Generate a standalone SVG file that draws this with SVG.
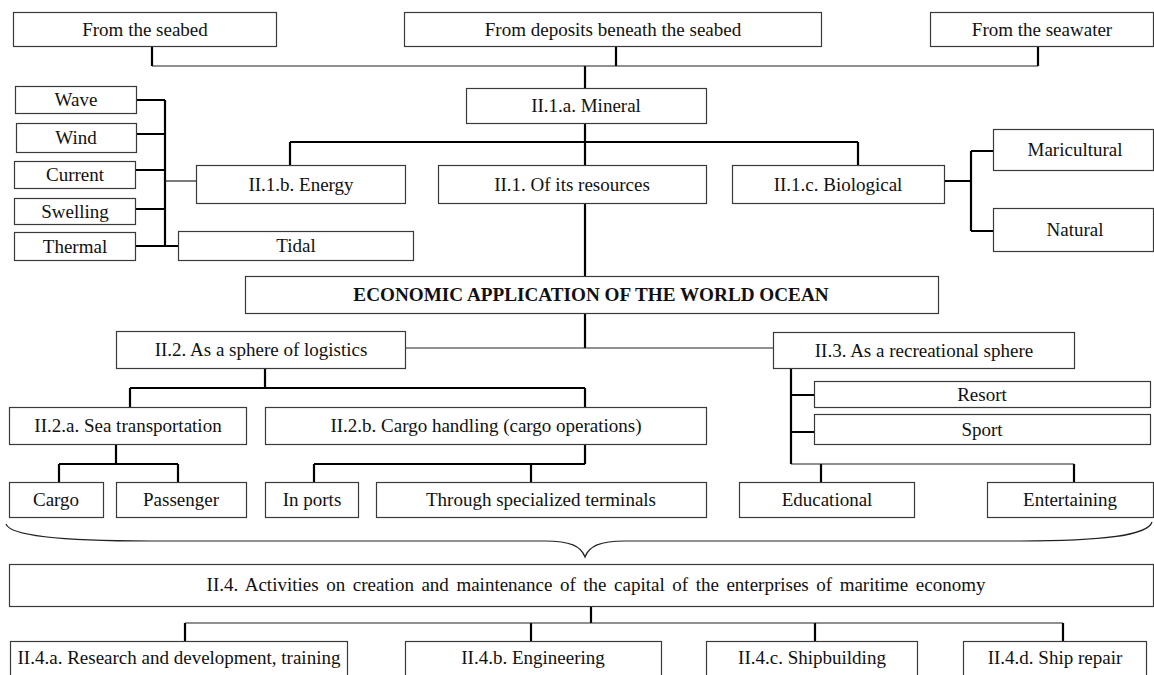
<svg xmlns="http://www.w3.org/2000/svg" width="1154" height="675" viewBox="0 0 1154 675">
<style>
rect{fill:#fff;stroke:#3a3a3a;stroke-width:1.2}
text{font-family:"Liberation Serif","Times New Roman",serif;font-size:19px;fill:#111;text-anchor:middle}
.b{font-weight:bold;font-size:19.2px}
.c path{fill:none;stroke:#000;stroke-width:2.2}
.c path.t{stroke-width:1.2;stroke:#222}
</style>
<rect x="0" y="0" width="1154" height="675" style="stroke:none"/>
<g class="c" id="connectors">
<path d="M152,46V66M616,46V66M1038,46V66M585,66V88"/>
<path class="t" d="M152,66H1038"/>
<path d="M585,123V142M290,142H858M290,142V165M585,142V165M858,142V165"/>
<path d="M165,100V246M136,100H165M137,134H165M135,170H165M135,209H165M135,246H178"/>
<path class="t" d="M165,181H196"/>
<path d="M944,181H971M971,151V231M971,151H993M971,231H993"/>
<path d="M585,203V276M585,313V348"/>
<path class="t" d="M405,348H773"/>
<path d="M265,368V388M130,388H585M130,388V407M585,388V407"/>
<path d="M116,444V464M59,464H178M59,464V482M178,464V482"/>
<path d="M585,444V464M314,464H585M314,464V482M531,464V482"/>
<path d="M791,368V464M791,395H814M791,432H814M821,464V482M1074,464V482"/>
<path class="t" d="M791,464H1074"/>
<path d="M591,606V623M185,623V641M531,623V641M815,623V641M1063,623V641"/>
<path class="t" d="M185,623H1063"/>
<path class="t" d="M6,524C10,536 60,541 150,541L545,541C570,541 581,546 585,557C589,546 600,541 625,541L1020,541C1100,541 1148,536 1152,522"/>
</g>
<g id="n-seabed"><rect x="13.5" y="12.5" width="263" height="34"/><text x="145" y="36">From the seabed</text></g>
<g id="n-deposits"><rect x="404.5" y="12.5" width="417" height="34"/><text x="613" y="36">From deposits beneath the seabed</text></g>
<g id="n-seawater"><rect x="930.5" y="12.5" width="223" height="34"/><text x="1042" y="36">From the seawater</text></g>
<g id="n-mineral"><rect x="466.5" y="88.5" width="240" height="35"/><text x="586" y="112">II.1.a. Mineral</text></g>
<g id="n-wave"><rect x="15.5" y="86.5" width="121" height="27"/><text x="76" y="106">Wave</text></g>
<g id="n-wind"><rect x="16.5" y="123.5" width="120" height="29"/><text x="76" y="144">Wind</text></g>
<g id="n-current"><rect x="14.5" y="161.5" width="121" height="27"/><text x="75" y="181">Current</text></g>
<g id="n-swelling"><rect x="14.5" y="198.5" width="121" height="26"/><text x="75" y="218">Swelling</text></g>
<g id="n-thermal"><rect x="14.5" y="232.5" width="121" height="28"/><text x="75" y="253">Thermal</text></g>
<g id="n-energy"><rect x="196.5" y="165.5" width="209" height="38"/><text x="301" y="191">II.1.b. Energy</text></g>
<g id="n-tidal"><rect x="178.5" y="231.5" width="235" height="29"/><text x="296" y="252">Tidal</text></g>
<g id="n-resources"><rect x="438.5" y="165.5" width="268" height="38"/><text x="572" y="191">II.1. Of its resources</text></g>
<g id="n-biological"><rect x="732.5" y="165.5" width="212" height="38"/><text x="838" y="191">II.1.c. Biological</text></g>
<g id="n-maricultural"><rect x="993.5" y="129.5" width="160" height="41"/><text x="1075" y="156">Maricultural</text></g>
<g id="n-natural"><rect x="993.5" y="208.5" width="160" height="43"/><text x="1075" y="236">Natural</text></g>
<g id="n-economic"><rect x="245.5" y="276.5" width="693" height="37"/><text class="b" x="591" y="301">ECONOMIC APPLICATION OF THE WORLD OCEAN</text></g>
<g id="n-logistics"><rect x="116.5" y="331.5" width="289" height="37"/><text x="261" y="356">II.2. As a sphere of logistics</text></g>
<g id="n-recreational"><rect x="773.5" y="332.5" width="301" height="36"/><text x="924" y="357">II.3. As a recreational sphere</text></g>
<g id="n-seatransport"><rect x="9.5" y="407.5" width="237" height="37"/><text x="128" y="432">II.2.a. Sea transportation</text></g>
<g id="n-cargohandling"><rect x="265.5" y="407.5" width="441" height="37"/><text x="486" y="432">II.2.b. Cargo handling (cargo operations)</text></g>
<g id="n-resort"><rect x="814.5" y="381.5" width="336" height="26"/><text x="982" y="401">Resort</text></g>
<g id="n-sport"><rect x="814.5" y="414.5" width="336" height="30"/><text x="982" y="436">Sport</text></g>
<g id="n-cargo"><rect x="9.5" y="482.5" width="94" height="35"/><text x="56" y="506">Cargo</text></g>
<g id="n-passenger"><rect x="116.5" y="482.5" width="130" height="35"/><text x="181" y="506">Passenger</text></g>
<g id="n-inports"><rect x="265.5" y="482.5" width="93" height="35"/><text x="312" y="506">In ports</text></g>
<g id="n-terminals"><rect x="376.5" y="482.5" width="330" height="35"/><text x="541" y="506">Through specialized terminals</text></g>
<g id="n-educational"><rect x="739.5" y="482.5" width="175" height="35"/><text x="827" y="506">Educational</text></g>
<g id="n-entertaining"><rect x="987.5" y="482.5" width="166" height="35"/><text x="1070" y="506">Entertaining</text></g>
<g id="n-activities"><rect x="9.5" y="564.5" width="1144" height="42"/><text x="596" y="591" word-spacing="2.8">II.4. Activities on creation and maintenance of the capital of the enterprises of maritime economy</text></g>
<g id="n-research"><rect x="10.5" y="641.5" width="337" height="45"/><text x="179" y="664">II.4.a. Research and development, training</text></g>
<g id="n-engineering"><rect x="405.5" y="641.5" width="256" height="45"/><text x="533" y="664">II.4.b. Engineering</text></g>
<g id="n-shipbuilding"><rect x="706.5" y="641.5" width="211" height="45"/><text x="812" y="664">II.4.c. Shipbuilding</text></g>
<g id="n-shiprepair"><rect x="963.5" y="641.5" width="183" height="45"/><text x="1055" y="664">II.4.d. Ship repair</text></g>
</svg>
